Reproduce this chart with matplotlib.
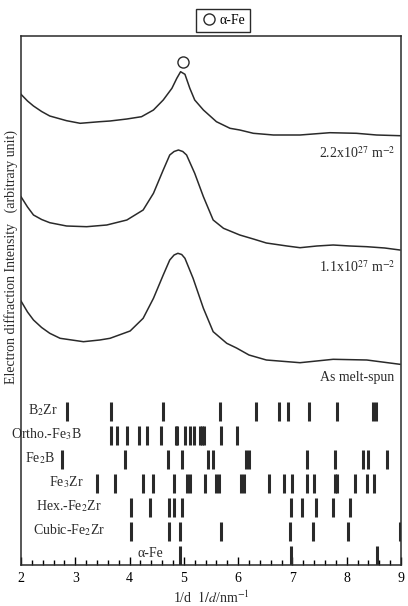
import matplotlib
matplotlib.use("Agg")
import matplotlib.pyplot as plt
from matplotlib.lines import Line2D
from matplotlib.ticker import MultipleLocator

plt.rcParams['font.family'] = ['Liberation Serif', 'DejaVu Serif']
plt.rcParams['mathtext.fontset'] = 'stix'

#########################################################################################################
#! Data

# 2.2x10^27 m^-2 profile
x_22 = [2.0, 2.12, 2.23, 2.38, 2.53, 2.84, 3.09, 3.45, 3.64, 3.95, 4.22, 4.44, 4.62, 4.78,
        4.87, 4.94, 5.02, 5.11, 5.20, 5.36, 5.60, 5.85, 6.03, 6.28, 6.65, 7.14, 7.69,
        8.18, 8.55, 8.98]
y_22 = [470.7, 464, 459, 453.5, 449, 444.3, 441.7, 443.3, 444, 446, 448.3, 455, 465, 476.7,
        486.7, 493.3, 490.7, 476.7, 465, 455, 443.3, 436.7, 435, 431.7, 430, 430, 432.3,
        431.7, 430, 429.3]

# 1.1x10^27 m^-2 profile
x_11 = [2.0, 2.12, 2.23, 2.38, 2.53, 2.84, 3.21, 3.58, 3.95, 4.25, 4.44, 4.62, 4.74, 4.82,
        4.90, 4.98, 5.05, 5.20, 5.36, 5.54, 5.73, 6.03, 6.28, 6.52, 6.90, 7.14, 7.45,
        7.75, 8.06, 8.37, 8.70, 8.98]
y_11 = [368.3, 358, 350, 345.5, 342.3, 339, 338.3, 340, 345, 355, 371.7, 395, 410, 413.5,
        415, 413.5, 410, 391.7, 368.3, 345, 336.7, 330, 326, 322, 319, 317.3, 319,
        320, 319, 318.3, 317, 315]

# as melt-spun profile
x_ms = [2.0, 2.12, 2.23, 2.38, 2.53, 2.72, 3.15, 3.45, 3.64, 4.01, 4.25, 4.44, 4.62, 4.74,
        4.82, 4.89, 4.96, 5.02, 5.17, 5.36, 5.54, 5.79, 5.97, 6.20, 6.52, 7.14, 7.75,
        8.37, 8.98]
y_ms = [264, 253, 245, 237.5, 231.7, 226.7, 223.3, 225, 226.7, 234, 246.7, 266.7, 290, 305,
        310, 311.7, 310.5, 306.7, 286.7, 256.7, 233.3, 221.7, 217, 210, 205, 202.3, 205.7,
        205, 200.7]

curve_labels = [r"2.2x10$^{27}$ m$^{-2}$", r"1.1x10$^{27}$ m$^{-2}$", "As melt-spun"]

# alpha-Fe mark on the top profile
circle_x = 4.98
circle_y = 503

# reference reflections (bottom up)
phases = ["α-Fe", r"Cubic-Fe$_2$Zr", r"Hex.-Fe$_2$Zr", r"Fe$_3$Zr", r"Fe$_2$B", r"Ortho.-Fe$_3$B", r"B$_2$Zr"]
alpha_fe    = [4.93, 6.97, 8.55]
cubic_fe2zr = [4.02, 4.72, 4.92, 5.68, 6.95, 7.38, 8.03, 8.98]
hex_fe2zr   = [4.02, 4.38, 4.73, 4.82, 4.96, 6.98, 7.18, 7.43, 7.75, 8.06]
fe3zr       = [3.40, 3.73, 4.25, 4.44, 4.82, 5.06, 5.12, 5.39, 5.59, 5.65, 6.05, 6.11, 6.57,
               6.84, 7.00, 7.27, 7.40, 7.78, 7.83, 8.16, 8.38, 8.51]
fe2b        = [2.76, 3.92, 4.70, 4.97, 5.45, 5.53, 6.14, 6.20, 7.26, 7.78, 8.30, 8.39, 8.75]
ortho_fe3b  = [3.66, 3.77, 3.95, 4.18, 4.32, 4.58, 4.85, 4.88, 5.02, 5.11, 5.19, 5.30, 5.34,
               5.38, 5.68, 5.98]
b2zr        = [2.84, 3.65, 4.62, 5.67, 6.32, 6.75, 6.92, 7.30, 7.83, 8.49, 8.54]
reflections = [alpha_fe, cubic_fe2zr, hex_fe2zr, fe3zr, fe2b, ortho_fe3b, b2zr]

#########################################################################################################
#! Layout

ROW_STEP   = 24.0
BAR_HEIGHT = 19.5
label_x    = [4.39, 2.89, 2.88, 2.84, 2.35, 2.47, 2.40]   # centre of each phase label
FS         = 10

fig = plt.figure(figsize=(4.08, 6.06), dpi=100)
ax = fig.add_axes([21 / 408, 1 - 565 / 606, 380 / 408, 529 / 606])

ink = "#2a2a2a"

# profiles
for xs, ys in [(x_22, y_22), (x_11, y_11), (x_ms, y_ms)]:
    ax.plot(xs, ys, color=ink, lw=1.1, solid_joinstyle="round")

ax.plot(circle_x, circle_y, "o", mfc="none", mec=ink, ms=8, mew=1.0)

ax.text(8.2, 412, curve_labels[0], fontsize=FS, ha="center", va="center", color=ink)
ax.text(8.2, 298, curve_labels[1], fontsize=FS, ha="center", va="center", color=ink)
ax.text(8.2, 187, curve_labels[2], fontsize=FS, ha="center", va="center", color=ink)

# stick patterns
for i, (name, xs) in enumerate(zip(phases, reflections)):
    base = i * ROW_STEP
    ax.vlines(xs, base, base + BAR_HEIGHT, color=ink, lw=2.2)
    ax.text(label_x[i], base + BAR_HEIGHT / 2 + (1 if i else 2), name, fontsize=FS,
            ha="center", va="center", color=ink, clip_on=False)

ax.set_xlim(2, 9)
ax.set_ylim(0, 529)
ax.xaxis.set_major_locator(MultipleLocator(1))
ax.xaxis.set_minor_locator(MultipleLocator(0.2))
ax.tick_params(axis="x", which="major", direction="in", length=6, width=1, labelsize=FS, pad=5)
ax.tick_params(axis="x", which="minor", direction="in", length=3.5, width=1)
ax.set_yticks([])
for s in ax.spines.values():
    s.set_linewidth(1.1)
    s.set_color(ink)

fig.text(211 / 408, 1 - 598 / 606, r"1/d  $\it{1/d}$/nm$^{-1}$", fontsize=FS,
         ha="center", va="center", color=ink)
fig.text(11 / 408, 1 - 257 / 606, "Electron diffraction Intensity   (arbitrary unit)",
         rotation=90, fontsize=FS, ha="center", va="center", color=ink)

# legend above the frame
handle = Line2D([], [], ls="none", marker="o", mfc="none", mec=ink, ms=8, mew=1.0)
leg = ax.legend([handle], ["α-Fe"], loc="center",
                bbox_to_anchor=((223 - 21) / 380, 1 + (36 - 20.5) / 529),
                bbox_transform=ax.transAxes, fancybox=False, edgecolor=ink, fontsize=FS,
                handletextpad=0.2, handlelength=1.2, borderpad=0.35, framealpha=1)
leg.get_frame().set_linewidth(1.0)

fig.savefig("out.png", dpi=100)
